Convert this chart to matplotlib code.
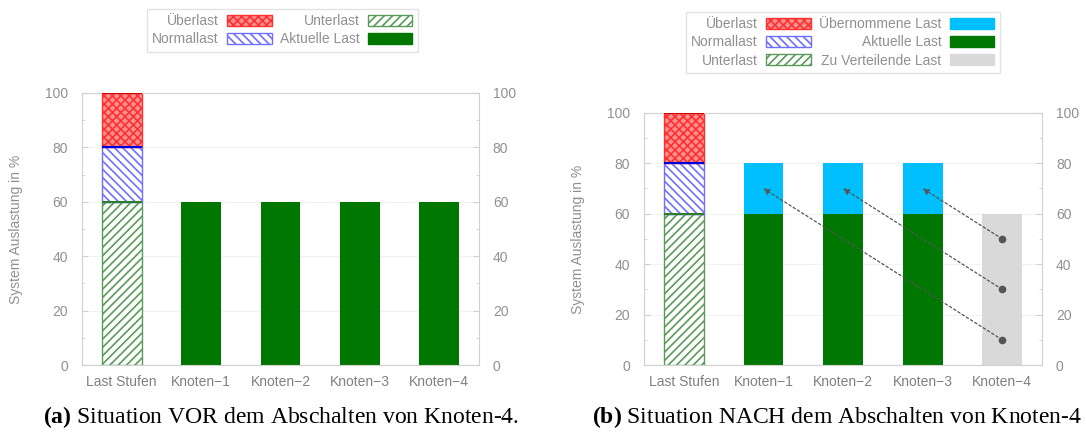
"""
Lastverteilung im Cluster: vor und nach dem Abschalten von Knoten-4.
"""

import numpy as np
import matplotlib
matplotlib.use("Agg")
import matplotlib.pyplot as plt
from matplotlib.patches import Patch

plt.rcParams["font.family"] = ["Liberation Sans", "DejaVu Sans"]
plt.rcParams["hatch.linewidth"] = 1.2
plt.rcParams["mathtext.fontset"] = "custom"
plt.rcParams["mathtext.rm"] = "Liberation Serif"
plt.rcParams["mathtext.bf"] = "Liberation Serif:bold"

# Kategorien
kategorien = ["Last Stufen", "Knoten\u22121", "Knoten\u22122", "Knoten\u22123", "Knoten\u22124"]

# Lastbereiche (Stufen-Balken)
unterlast = 60
normallast = 20
ueberlast = 20

# (a) vor dem Abschalten
aktuell_vor = [60, 60, 60, 60]

# (b) nach dem Abschalten
aktuell_nach = [60, 60, 60]
uebernommen = [20, 20, 20]
zu_verteilen = 60
pfeil_start = [10, 30, 50]      # auf Knoten-4
pfeil_ziel = [70, 70, 70]       # auf Knoten-1..3

c_grau = "#909090"
c_achse = "#d0d0d0"
c_aktuell = "#007700"
c_uebern = "#00bfff"
c_verteil = "#d9d9d9"
breite = 0.5


def stufen_balken(ax):
    ax.bar(0, unterlast, breite, color="white", edgecolor="#5a9a5a", hatch="////", lw=1.0)
    ax.bar(0, normallast, breite, bottom=unterlast, color="white", edgecolor="#7070ff",
           hatch="\\\\\\\\", lw=1.0)
    ax.bar(0, ueberlast, breite, bottom=unterlast + normallast, color="#ff9090",
           edgecolor="#ff3030", hatch="xxxx", lw=1.0)
    # obere Kanten der Bereiche
    ax.hlines(unterlast, -breite / 2, breite / 2, color="#2e7d2e", lw=1.5, zorder=3)
    ax.hlines(unterlast + normallast, -breite / 2, breite / 2, color="#0000dd", lw=1.5, zorder=3)
    ax.hlines(unterlast + normallast + ueberlast, -breite / 2, breite / 2, color="#cc0000",
              lw=1.5, zorder=3)


def achsen_stil(ax):
    ax.set_xlim(-0.5, 4.5)
    ax.set_ylim(0, 100)
    ax.set_xticks(np.arange(len(kategorien)))
    ax.set_xticklabels(kategorien)
    ax.set_yticks(np.arange(0, 101, 20))
    ax.set_yticks(np.arange(10, 100, 20), minor=True)
    ax.tick_params(axis="y", which="both", direction="in", right=True, labelright=True,
                   colors=c_achse, labelcolor=c_grau, labelsize=10, pad=10)
    ax.tick_params(axis="y", which="major", length=4)
    ax.tick_params(axis="y", which="minor", length=2)
    ax.tick_params(axis="x", length=0, labelcolor="#808080", labelsize=10, pad=7)
    for s in ax.spines.values():
        s.set_color(c_achse)
        s.set_linewidth(0.8)
    ax.yaxis.grid(True, color="#f2f2f2", lw=0.8)
    ax.set_axisbelow(True)
    ax.set_ylabel("System Auslastung in %", color=c_grau, fontsize=10, labelpad=16)


def legende(ax, handles, bbox):
    leg = ax.legend(handles=handles, ncol=2, markerfirst=False, loc="center",
                    bbox_to_anchor=bbox, bbox_transform=fig.transFigure, fontsize=10,
                    frameon=True, fancybox=False, edgecolor="#dddddd",
                    handlelength=3.2, handleheight=0.8, handletextpad=0.6,
                    columnspacing=0.6, labelspacing=0.3, borderpad=0.4)
    for t in leg.get_texts():
        t.set_color(c_grau)
    return leg


h_ueber = Patch(facecolor="#ff9090", edgecolor="#ff3030", hatch="xxxx", label="\u00dcberlast")
h_normal = Patch(facecolor="white", edgecolor="#7070ff", hatch="\\\\\\\\", label="Normallast")
h_unter = Patch(facecolor="white", edgecolor="#5a9a5a", hatch="////", label="Unterlast")
h_aktuell = Patch(facecolor=c_aktuell, edgecolor=c_aktuell, label="Aktuelle Last")
h_uebern = Patch(facecolor=c_uebern, edgecolor=c_uebern, label="\u00dcbernommene Last")
h_verteil = Patch(facecolor=c_verteil, edgecolor=c_verteil, label="Zu Verteilende Last")

fig = plt.figure(figsize=(10.86, 4.32), dpi=100)

# (a) vorher
ax1 = fig.add_axes([0.0755, 0.155, 0.3655, 0.630])
stufen_balken(ax1)
ax1.bar(np.arange(1, 5), aktuell_vor, breite, color=c_aktuell)
achsen_stil(ax1)
legende(ax1, [h_ueber, h_normal, h_unter, h_aktuell], (0.260, 0.930))

# (b) nachher
ax2 = fig.add_axes([0.593, 0.155, 0.3665, 0.584])
stufen_balken(ax2)
x_ziel = np.arange(1, 4)
ax2.bar(x_ziel, aktuell_nach, breite, color=c_aktuell)
ax2.bar(x_ziel, uebernommen, breite, bottom=aktuell_nach, color=c_uebern)
ax2.bar(4, zu_verteilen, breite, color=c_verteil)
for xz, ys, yz in zip(x_ziel, pfeil_start, pfeil_ziel):
    ax2.annotate("", xy=(xz, yz), xytext=(4, ys),
                 arrowprops=dict(arrowstyle="-|>", color="#555555", lw=0.9, ls=(0, (2, 2)),
                                 mutation_scale=9, shrinkA=0, shrinkB=0))
    ax2.plot(4, ys, "o", color="#555555", ms=4.5, zorder=4)
achsen_stil(ax2)
legende(ax2, [h_ueber, h_normal, h_unter, h_uebern, h_aktuell, h_verteil], (0.776, 0.902))

# Bildunterschriften
cap = dict(family=["Liberation Serif", "DejaVu Serif"], fontsize=17, va="baseline",
           ha="center")
fig.text(0.259, 0.02, r"$\mathbf{(a)}$ Situation VOR dem Abschalten von Knoten-4.", **cap)
fig.text(0.771, 0.02, r"$\mathbf{(b)}$ Situation NACH dem Abschalten von Knoten-4", **cap)

fig.savefig("out.png", dpi=100)
